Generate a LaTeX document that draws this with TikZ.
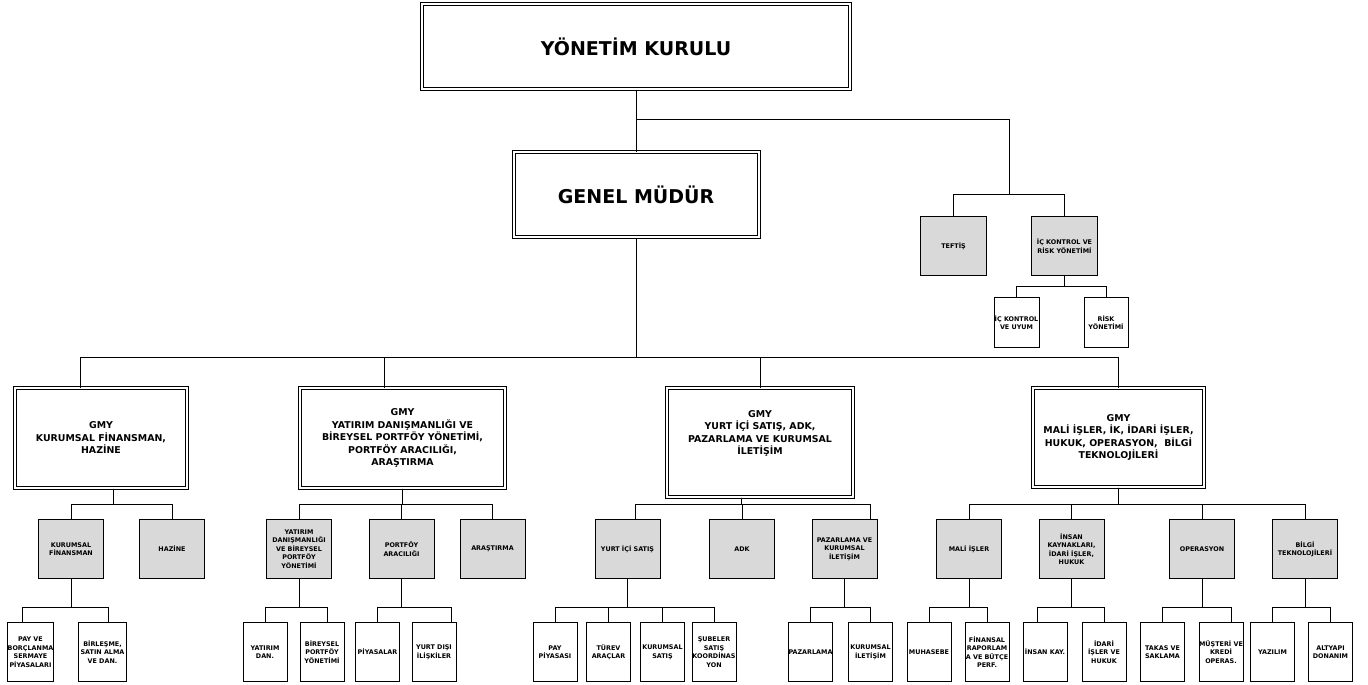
\documentclass[tikz,border=0pt]{standalone}
\usepackage{fontspec}
\setmainfont{DejaVu Sans}
\definecolor{unitgray}{HTML}{D9D9D9}

\begin{document}
\begin{tikzpicture}[x=1pt, y=-1pt]
% Box styles
\tikzset{
    headbox/.style={draw, double, double distance=2pt, line width=1pt, align=center, inner sep=0pt,
        font=\bfseries\fontsize{19}{23}\selectfont},
    gmybox/.style={draw, double, double distance=2pt, line width=1pt, align=center, inner sep=0pt,
        font=\bfseries\fontsize{9.4}{12.5}\selectfont},
    unitbox/.style={draw, fill=unitgray, line width=1pt, align=center, inner sep=0pt,
        minimum width=65pt, minimum height=59pt, font=\bfseries\fontsize{6.4}{8.5}\selectfont},
    subbox/.style={draw, fill=white, line width=1pt, align=center, inner sep=0pt,
        minimum width=44pt, minimum height=59pt, font=\bfseries\fontsize{6.4}{8.5}\selectfont},
    link/.style={line width=1pt}
}
\useasboundingbox (0,0) rectangle (1368,685);

% Nodes
\node[headbox, minimum width=428pt, minimum height=85pt] (YK) at (636,46.5) {YÖNETİM KURULU};
\node[headbox, minimum width=245pt, minimum height=85pt] (GM) at (636,194.5) {GENEL MÜDÜR};

\node[unitbox, minimum width=66pt] (TEF) at (953.5,246) {TEFTİŞ};
\node[unitbox, minimum width=66pt] (IKR) at (1064.5,246) {İÇ KONTROL VE\\RİSK YÖNETİMİ};
\node[subbox, minimum width=45pt, minimum height=50pt] (IKU) at (1016.5,322.5) {İÇ KONTROL\\VE UYUM};
\node[subbox, minimum width=44pt, minimum height=50pt] (RSK) at (1106,322.5) {RİSK\\YÖNETİMİ};

\node[gmybox, minimum width=172pt, minimum height=100pt] (GMYa) at (101,438) {GMY\\KURUMSAL FİNANSMAN,\\HAZİNE};
\node[gmybox, minimum width=205pt, minimum height=100pt] (GMYb) at (402.5,438) {GMY\\YATIRIM DANIŞMANLIĞI VE\\BİREYSEL PORTFÖY YÖNETİMİ,\\PORTFÖY ARACILIĞI,\\ARAŞTIRMA};
\node[gmybox, minimum width=186pt, minimum height=109pt, text depth=20pt] (GMYc) at (760,442.5) {GMY\\YURT İÇİ SATIŞ, ADK,\\PAZARLAMA VE KURUMSAL\\İLETİŞİM};
\node[gmybox, minimum width=171pt, minimum height=99pt] (GMYd) at (1118.5,437.5) {GMY\\MALİ İŞLER, İK, İDARİ İŞLER,\\HUKUK, OPERASYON,~~BİLGİ\\TEKNOLOJİLERİ};

\node[unitbox] (KF)  at (71,549)     {KURUMSAL\\FİNANSMAN};
\node[unitbox] (HAZ) at (172,549)    {HAZİNE};
\node[unitbox] (YDB) at (299,549)    {YATIRIM\\DANIŞMANLIĞI\\VE BİREYSEL\\PORTFÖY\\YÖNETİMİ};
\node[unitbox] (PAR) at (401.5,549)  {PORTFÖY\\ARACILIĞI};
\node[unitbox] (ARS) at (492.5,549)  {ARAŞTIRMA};
\node[unitbox] (YIS) at (627.5,549)  {YURT İÇİ SATIŞ};
\node[unitbox] (ADK) at (742,549)    {ADK};
\node[unitbox] (PKI) at (844.5,549)  {PAZARLAMA VE\\KURUMSAL\\İLETİŞİM};
\node[unitbox] (MAL) at (969,549)    {MALİ İŞLER};
\node[unitbox] (INK) at (1071.5,549) {İNSAN\\KAYNAKLARI,\\İDARİ İŞLER,\\HUKUK};
\node[unitbox] (OPR) at (1202,549)   {OPERASYON};
\node[unitbox] (BTK) at (1305,549)   {BİLGİ\\TEKNOLOJİLERİ};

\node[subbox, minimum width=46pt] (PAB) at (30.5,652)   {PAY VE\\BORÇLANMA\\SERMAYE\\PİYASALARI};
\node[subbox, minimum width=48pt] (BRL) at (102.5,652)  {BİRLEŞME,\\SATIN ALMA\\VE DAN.};
\node[subbox] (YTD) at (265,652)    {YATIRIM\\DAN.};
\node[subbox] (BPY) at (322,652)    {BİREYSEL\\PORTFÖY\\YÖNETİMİ};
\node[subbox] (PYS) at (377.5,652)  {PİYASALAR};
\node[subbox] (YDI) at (434,652)    {YURT DIŞI\\İLİŞKİLER};
\node[subbox] (PPY) at (555,652)    {PAY\\PİYASASI};
\node[subbox] (TRV) at (608.5,652)  {TÜREV\\ARAÇLAR};
\node[subbox] (KSA) at (662.5,652)  {KURUMSAL\\SATIŞ};
\node[subbox] (SUB) at (714,652)    {ŞUBELER\\SATIŞ\\KOORDİNAS\\YON};
\node[subbox] (PZL) at (810.5,652)  {PAZARLAMA};
\node[subbox] (KIL) at (870.5,652)  {KURUMSAL\\İLETİŞİM};
\node[subbox] (MUH) at (929,652)    {MUHASEBE};
\node[subbox] (FRB) at (987,652)    {FİNANSAL\\RAPORLAM\\A VE BÜTÇE\\PERF.};
\node[subbox] (INS) at (1045,652)   {İNSAN KAY.};
\node[subbox] (IDH) at (1104,652)   {İDARİ\\İŞLER VE\\HUKUK};
\node[subbox] (TKS) at (1162.5,652) {TAKAS VE\\SAKLAMA};
\node[subbox] (MKO) at (1221,652)   {MÜŞTERİ VE\\KREDİ\\OPERAS.};
\node[subbox] (YZL) at (1272.5,652) {YAZILIM};
\node[subbox] (ALT) at (1330.5,652) {ALTYAPI\\DONANIM};

% Connections
\coordinate (ctl) at (1009,194);
\coordinate (bus) at (636,357);

\draw[link] (YK.south) -- (GM.north);
\draw[link] (YK.south) ++(0,30) -| (ctl);
\draw[link] (ctl) -| (TEF.north);
\draw[link] (ctl) -| (IKR.north);
\draw[link] (IKR.south) -- ++(0,10) -| (IKU.north);
\draw[link] (IKR.south) -- ++(0,10) -| (RSK.north);

\draw[link] (GM.south) -- (bus);
\draw[link] (bus) -| ([xshift=-21]GMYa.north);
\draw[link] (bus) -| ([xshift=-18]GMYb.north);
\draw[link] (bus) -| (GMYc.north);
\draw[link] (bus) -| (GMYd.north);

\draw[link] ([xshift=12]GMYa.south) -- ++(0,16) -| (KF.north);
\draw[link] ([xshift=12]GMYa.south) -- ++(0,16) -| (HAZ.north);

\draw[link] (GMYb.south) -- ++(0,16) -| (YDB.north);
\draw[link] (GMYb.south) -- ++(0,16) -| (PAR.north);
\draw[link] (GMYb.south) -- ++(0,16) -| (ARS.north);

\draw[link] ([xshift=-19]GMYc.south) -- ++(0,7) -| ([xshift=8]YIS.north);
\draw[link] ([xshift=-19]GMYc.south) -- ++(0,7) -| (ADK.north);
\draw[link] ([xshift=-19]GMYc.south) -- ++(0,7) -| ([xshift=26]PKI.north);

\draw[link] (GMYd.south) -- ++(0,17) -| (MAL.north);
\draw[link] (GMYd.south) -- ++(0,17) -| (INK.north);
\draw[link] (GMYd.south) -- ++(0,17) -| (OPR.north);
\draw[link] (GMYd.south) -- ++(0,17) -| (BTK.north);

\draw[link] (KF.south) -- ++(0,28) -| ([xshift=-8]PAB.north);
\draw[link] (KF.south) -- ++(0,28) -| ([xshift=6]BRL.north);

\draw[link] (YDB.south) -- ++(0,28) -| (YTD.north);
\draw[link] (YDB.south) -- ++(0,28) -| ([xshift=5]BPY.north);

\draw[link] (PAR.south) -- ++(0,28) -| (PYS.north);
\draw[link] (PAR.south) -- ++(0,28) -| ([xshift=17]YDI.north);

\draw[link] (YIS.south) -- ++(0,28) -| (PPY.north);
\draw[link] (YIS.south) -- ++(0,28) -| (TRV.north);
\draw[link] (YIS.south) -- ++(0,28) -| (KSA.north);
\draw[link] (YIS.south) -- ++(0,28) -| (SUB.north);

\draw[link] (PKI.south) -- ++(0,28) -| (PZL.north);
\draw[link] (PKI.south) -- ++(0,28) -| (KIL.north);

\draw[link] (MAL.south) -- ++(0,28) -| (MUH.north);
\draw[link] (MAL.south) -- ++(0,28) -| (FRB.north);

\draw[link] (INK.south) -- ++(0,28) -| ([xshift=-8]INS.north);
\draw[link] (INK.south) -- ++(0,28) -| (IDH.north);

\draw[link] (OPR.south) -- ++(0,28) -| (TKS.north);
\draw[link] (OPR.south) -- ++(0,28) -| ([xshift=10]MKO.north);

\draw[link] (BTK.south) -- ++(0,28) -| (YZL.north);
\draw[link] (BTK.south) -- ++(0,28) -| (ALT.north);
\end{tikzpicture}
\end{document}
